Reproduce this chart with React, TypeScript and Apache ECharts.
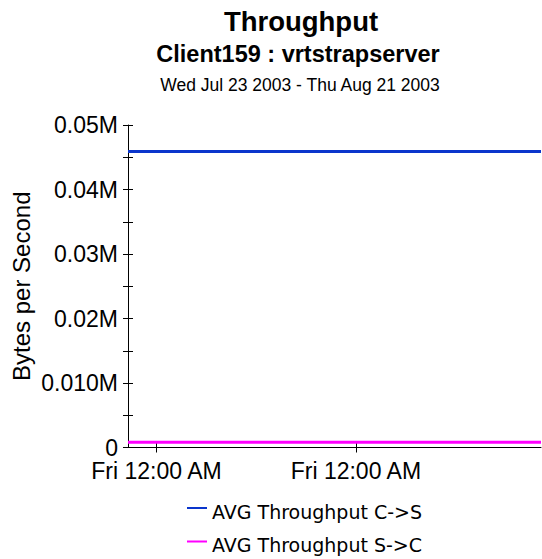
import React, { useEffect, useRef } from "react";
import * as echarts from "echarts";

const seriesNames = ["AVG Throughput C->S", "AVG Throughput S->C"];
const sampleTimes = ["2003-07-23 00:00", "2003-08-21 00:00"];
const throughputCS = [45900, 45900];
const throughputSC = [800, 800];
const seriesColors = ["#0a35cc", "#ff00ff"];

const yTicks = [0, 10000, 20000, 30000, 40000, 50000];
const yTickLabels = ["0", "0.010M", "0.02M", "0.03M", "0.04M", "0.05M"];
const xTickTimes = ["2003-07-25 00:00", "2003-08-08 00:00"];
const xTickLabels = ["Fri 12:00 AM", "Fri 12:00 AM"];

const titleText = "Throughput";
const subTitleText = "Client159 : vrtstrapserver";
const dateRangeText = "Wed Jul 23 2003 - Thu Aug 21 2003";
const yAxisName = "Bytes per Second";

function toTs(s: string): number {
  const [d, t] = s.split(" ");
  const [y, m, dd] = d.split("-").map(Number);
  const [hh, mm] = t.split(":").map(Number);
  return new Date(y, m - 1, dd, hh, mm).getTime();
}

const FONT = "'Liberation Sans', Arial, sans-serif";

export default function App() {
  const ref = useRef<HTMLDivElement>(null);
  useEffect(() => {
    if (!ref.current) return;
    const chart = echarts.init(ref.current, null, { renderer: "svg" });
    const times = sampleTimes.map(toTs);
    const xTicks = xTickTimes.map(toTs);
    const xMin = times[0];
    const xMax = times[times.length - 1];
    const xFmt = (v: number) => {
      const i = xTicks.indexOf(v);
      return i >= 0 ? xTickLabels[i] : "";
    };
    const yFmt = (v: number) => {
      const i = yTicks.indexOf(v);
      return i >= 0 ? yTickLabels[i] : "";
    };
    const legendIcon = "path://M0,0H20V2H0Z M0,8.9H0.05V9H0Z";
    const legendBase = {
      orient: "vertical",
      left: 187,
      itemWidth: 20,
      itemHeight: 9,
      icon: legendIcon,
      padding: 0,
      textStyle: { fontFamily: "'DejaVu Sans', sans-serif", fontSize: 19, lineHeight: 19, color: "#000" },
    };
    chart.setOption({
      animation: false,
      backgroundColor: "#ffffff",
      textStyle: { fontFamily: FONT, color: "#000" },
      graphic: [
        {
          type: "text",
          x: 301,
          y: 21,
          style: {
            text: titleText,
            fontFamily: FONT,
            fontSize: 27.5,
            fontWeight: "bold",
            fill: "#000",
            textAlign: "center",
            textVerticalAlign: "middle",
          },
        },
        {
          type: "text",
          x: 298,
          y: 54,
          style: {
            text: subTitleText,
            fontFamily: FONT,
            fontSize: 23.5,
            fontWeight: "bold",
            fill: "#000",
            textAlign: "center",
            textVerticalAlign: "middle",
          },
        },
        {
          type: "text",
          x: 300,
          y: 85,
          style: {
            text: dateRangeText,
            fontFamily: FONT,
            fontSize: 17.5,
            fill: "#000",
            textAlign: "center",
            textVerticalAlign: "middle",
          },
        },
      ],
      grid: {
        left: 128,
        top: 125,
        right: 1,
        bottom: 111.5,
        containLabel: false,
        outerBoundsMode: "none",
      },
      legend: [
        { ...legendBase, top: 502, data: [seriesNames[0]] },
        { ...legendBase, top: 535.5, data: [seriesNames[1]] },
      ],
      xAxis: [
        {
          type: "value",
          position: "bottom",
          min: xMin,
          max: xMax,
          axisLine: { show: true, onZero: false, lineStyle: { color: "#000", width: 1 } },
          axisTick: { show: true, length: 5, customValues: xTicks, lineStyle: { color: "#000" } },
          axisLabel: {
            show: true,
            customValues: xTicks,
            formatter: xFmt,
            fontFamily: FONT,
            fontSize: 23,
            color: "#000",
            margin: 12,
          },
          splitLine: { show: false },
        },
        {
          type: "value",
          position: "bottom",
          offset: 0,
          min: xMin,
          max: xMax,
          axisLine: { show: false, onZero: false },
          axisTick: { show: true, inside: true, length: 5, customValues: xTicks, lineStyle: { color: "#000" } },
          axisLabel: { show: false },
          splitLine: { show: false },
        },
      ],
      yAxis: [
        {
          type: "value",
          position: "left",
          min: 0,
          max: 50000,
          interval: 10000,
          name: yAxisName,
          nameLocation: "middle",
          nameRotate: 90,
          nameGap: 95,
          nameMoveOverlap: false,
          nameTextStyle: { fontFamily: FONT, fontSize: 24, color: "#000" },
          axisLine: { show: true, onZero: false, lineStyle: { color: "#000", width: 1 } },
          axisTick: { show: true, length: 5, lineStyle: { color: "#000" } },
          minorTick: { show: true, splitNumber: 2, length: 5, lineStyle: { color: "#000" } },
          axisLabel: { formatter: yFmt, fontFamily: FONT, fontSize: 23, color: "#000", margin: 10 },
          splitLine: { show: false },
        },
        {
          type: "value",
          position: "left",
          offset: 0,
          min: 0,
          max: 50000,
          interval: 10000,
          axisLine: { show: false, onZero: false },
          axisTick: { show: true, inside: true, length: 5, lineStyle: { color: "#000" } },
          minorTick: { show: true, splitNumber: 2, length: 5, lineStyle: { color: "#000" } },
          axisLabel: { show: false },
          splitLine: { show: false },
        },
      ],
      series: [
        {
          name: seriesNames[0],
          type: "line",
          xAxisIndex: 0,
          yAxisIndex: 0,
          showSymbol: false,
          symbol: "none",
          color: seriesColors[0],
          lineStyle: { color: seriesColors[0], width: 3 },
          itemStyle: { color: seriesColors[0], borderWidth: 0 },
          data: times.map((t, i) => [t, throughputCS[i]]),
        },
        {
          name: seriesNames[1],
          type: "line",
          xAxisIndex: 0,
          yAxisIndex: 0,
          showSymbol: false,
          symbol: "none",
          color: seriesColors[1],
          lineStyle: { color: seriesColors[1], width: 3 },
          itemStyle: { color: seriesColors[1], borderWidth: 0 },
          data: times.map((t, i) => [t, throughputSC[i]]),
        },
      ],
    });
    return () => chart.dispose();
  }, []);
  return (
    <div
      ref={ref}
      style={{ position: "fixed", left: 0, top: 0, width: 542, height: 559, background: "#fff" }}
    />
  );
}
